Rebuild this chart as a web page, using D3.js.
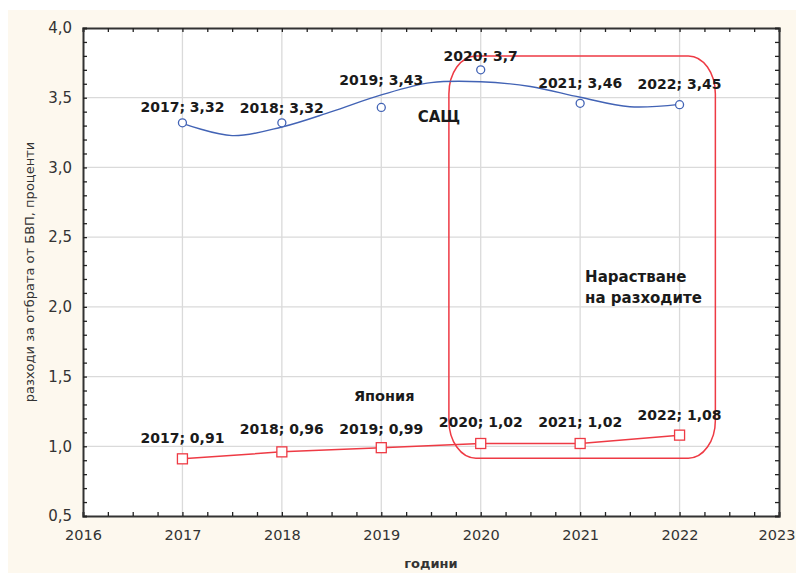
<!DOCTYPE html>
<html>
<head>
<meta charset="utf-8">
<script src="https://cdn.jsdelivr.net/npm/d3@7"></script>
<style>
	html, body { margin: 0; padding: 0; background: #ffffff; }
	svg { display: block; }
	text { font-family: 'DejaVu Sans', sans-serif; }
</style>
</head>
<body>
<svg id="chart"></svg>
<script>
// Data
const years = [2017, 2018, 2019, 2020, 2021, 2022];
const usaValues = [3.32, 3.32, 3.43, 3.7, 3.46, 3.45];
const japanValues = [0.91, 0.96, 0.99, 1.02, 1.02, 1.08];

// Smoothed USA trend line as drawn in the reference (read at half-year steps)
const usaTrendYears = [2017, 2017.5, 2018, 2018.5, 2019, 2019.5, 2020, 2020.5, 2021, 2021.5, 2022];
const usaTrendValues = [3.316, 3.228, 3.29, 3.4, 3.52, 3.608, 3.615, 3.58, 3.503, 3.435, 3.452];

const xTickYears = [2016, 2017, 2018, 2019, 2020, 2021, 2022, 2023];
const yTickValues = [0.5, 1.0, 1.5, 2.0, 2.5, 3.0, 3.5, 4.0];

const seriesNames = ['САЩ', 'Япония'];
const highlightLines = ['Нарастване', 'на разходите'];

class LineChart {
	constructor(_config) {
		this.config = {
			parentElement: _config.parentElement,
			containerWidth: 796,
			containerHeight: 574,
			margin: { top: 28, right: 17, bottom: 58, left: 83 },
		};
		this.initVis();
	}

	initVis() {
		let vis = this;

		vis.width = vis.config.containerWidth - vis.config.margin.left - vis.config.margin.right;
		vis.height = vis.config.containerHeight - vis.config.margin.top - vis.config.margin.bottom;

		vis.svg = d3
			.select(vis.config.parentElement)
			.attr('width', vis.config.containerWidth)
			.attr('height', vis.config.containerHeight);

		// cream panel behind the chart
		vis.svg
			.append('rect')
			.attr('x', 8)
			.attr('y', 10)
			.attr('width', vis.config.containerWidth - 8)
			.attr('height', vis.config.containerHeight - 11)
			.attr('fill', '#fdf8ee');

		vis.chart = vis.svg
			.append('g')
			.attr('transform', `translate(${vis.config.margin.left},${vis.config.margin.top})`);

		vis.chart
			.append('rect')
			.attr('width', vis.width)
			.attr('height', vis.height)
			.attr('fill', '#ffffff');

		vis.xScale = d3.scaleLinear().domain([2016, 2023]).range([0, vis.width]);
		vis.yScale = d3.scaleLinear().domain([0.5, 4.0]).range([vis.height, 0]);

		vis.locale = d3.formatLocale({ decimal: ',', thousands: ' ', grouping: [3], currency: ['', ''] });
		vis.numFmt = (v) => String(v).replace('.', ',');
	}

	renderVis() {
		let vis = this;
		const x = vis.xScale;
		const y = vis.yScale;

		// grid
		vis.chart
			.append('g')
			.selectAll('line')
			.data(xTickYears.slice(1, -1))
			.join('line')
			.attr('x1', (d) => x(d))
			.attr('x2', (d) => x(d))
			.attr('y1', 0)
			.attr('y2', vis.height)
			.attr('stroke', '#dadada')
			.attr('stroke-width', 1.3);

		vis.chart
			.append('g')
			.selectAll('line')
			.data(yTickValues.slice(1, -1))
			.join('line')
			.attr('x1', 0)
			.attr('x2', vis.width)
			.attr('y1', (d) => y(d))
			.attr('y2', (d) => y(d))
			.attr('stroke', '#dadada')
			.attr('stroke-width', 1.3);

		// minor ticks (inside the frame) on all four sides
		const xMinor = d3.range(2016 * 4, 2023 * 4 + 1).map((d) => d / 4);
		const yMinor = d3.range(5, 41).map((d) => d / 10);

		vis.chart
			.append('g')
			.attr('class', 'axis')
			.attr('transform', `translate(0,${vis.height})`)
			.call(d3.axisBottom(x).tickValues(xMinor).tickSize(-4).tickFormat(''));
		vis.chart
			.append('g')
			.attr('class', 'axis')
			.call(d3.axisTop(x).tickValues(xMinor).tickSize(-4).tickFormat(''));
		vis.chart
			.append('g')
			.attr('class', 'axis')
			.call(d3.axisLeft(y).tickValues(yMinor).tickSize(-4).tickFormat(''));
		vis.chart
			.append('g')
			.attr('class', 'axis')
			.attr('transform', `translate(${vis.width},0)`)
			.call(d3.axisRight(y).tickValues(yMinor).tickSize(-4).tickFormat(''));

		vis.chart
			.selectAll('.axis path')
			.attr('stroke', '#333333')
			.attr('stroke-width', 2);
		vis.chart
			.selectAll('.axis line')
			.attr('stroke', '#222222')
			.attr('stroke-width', 1.3);

		// tick labels
		const xLabels = vis.chart
			.append('g')
			.attr('transform', `translate(0,${vis.height})`)
			.call(d3.axisBottom(x).tickValues(xTickYears).tickSize(0).tickPadding(14).tickFormat(d3.format('d')));
		xLabels.select('.domain').remove();
		xLabels
			.selectAll('text')
			.attr('fill', '#333333')
			.style('font-size', '14.5px')
			.style('font-family', "'DejaVu Sans', sans-serif");
		// last label sits against the right edge of the page
		xLabels
			.selectAll('.tick')
			.filter((d) => d === 2023)
			.select('text')
			.attr('text-anchor', 'end')
			.attr('x', 16);

		const yLabels = vis.chart
			.append('g')
			.call(d3.axisLeft(y).tickValues(yTickValues).tickSize(0).tickPadding(11).tickFormat(vis.locale.format('.1f')));
		yLabels.select('.domain').remove();
		yLabels
			.selectAll('text')
			.attr('fill', '#333333')
			.style('font-size', '15px')
			.style('font-family', "'DejaVu Sans', sans-serif");

		// axis titles
		vis.svg
			.append('text')
			.attr('transform', `translate(34,${vis.config.margin.top + vis.height / 2}) rotate(-90)`)
			.attr('text-anchor', 'middle')
			.attr('fill', '#333333')
			.style('font-size', '13px')
			.text('разходи за отбрата от БВП, проценти');

		vis.svg
			.append('text')
			.attr('x', vis.config.margin.left + vis.width / 2)
			.attr('y', 568)
			.attr('text-anchor', 'middle')
			.attr('fill', '#333333')
			.style('font-size', '13px')
			.style('font-weight', 'bold')
			.text('години');

		// highlight box around 2020-2022
		const box = { x0: 2019.68, x1: 2022.36, y0: 0.915, y1: 3.8 };
		vis.chart
			.append('rect')
			.attr('x', x(box.x0))
			.attr('y', y(box.y1))
			.attr('width', x(box.x1) - x(box.x0))
			.attr('height', y(box.y0) - y(box.y1))
			.attr('rx', 27)
			.attr('ry', 38)
			.attr('fill', 'none')
			.attr('stroke', '#ee3a44')
			.attr('stroke-width', 1.5);

		// USA trend and markers
		const usaColor = '#4263b5';
		vis.chart
			.append('path')
			.datum(usaTrendYears.map((d, i) => [d, usaTrendValues[i]]))
			.attr('fill', 'none')
			.attr('stroke', usaColor)
			.attr('stroke-width', 1.4)
			.attr('d', d3.line().x((d) => x(d[0])).y((d) => y(d[1])).curve(d3.curveCatmullRom.alpha(0.5)));

		vis.chart
			.append('g')
			.selectAll('circle')
			.data(years)
			.join('circle')
			.attr('cx', (d) => x(d))
			.attr('cy', (d, i) => y(usaValues[i]))
			.attr('r', 4)
			.attr('fill', '#ffffff')
			.attr('stroke', usaColor)
			.attr('stroke-width', 1.3);

		// Japan line and markers
		const japanColor = '#ee3a44';
		vis.chart
			.append('path')
			.datum(years.map((d, i) => [d, japanValues[i]]))
			.attr('fill', 'none')
			.attr('stroke', japanColor)
			.attr('stroke-width', 1.5)
			.attr('d', d3.line().x((d) => x(d[0])).y((d) => y(d[1])));

		vis.chart
			.append('g')
			.selectAll('rect')
			.data(years)
			.join('rect')
			.attr('x', (d) => x(d) - 5)
			.attr('y', (d, i) => y(japanValues[i]) - 5)
			.attr('width', 10)
			.attr('height', 10)
			.attr('fill', '#ffffff')
			.attr('stroke', japanColor)
			.attr('stroke-width', 1.3);

		// point labels (offsets in px above each marker, as placed in the reference)
		const usaLabelDy = [11, 10, 22, 9, 15, 16];
		const japanLabelDy = [16, 18, 14, 16, 16, 15];

		const addLabels = (values, dys) => {
			vis.chart
				.append('g')
				.selectAll('text')
				.data(years)
				.join('text')
				.attr('x', (d) => x(d))
				.attr('y', (d, i) => y(values[i]) - dys[i])
				.attr('text-anchor', 'middle')
				.attr('fill', '#1a1a1a')
				.style('font-size', '14px')
				.style('font-weight', 'bold')
				.text((d, i) => `${d}; ${vis.numFmt(values[i])}`);
		};
		addLabels(usaValues, usaLabelDy);
		addLabels(japanValues, japanLabelDy);

		// series names
		vis.chart
			.append('text')
			.attr('x', x(2019.58))
			.attr('y', y(3.328))
			.attr('text-anchor', 'middle')
			.attr('fill', '#1a1a1a')
			.style('font-size', '15px')
			.style('font-weight', 'bold')
			.text(seriesNames[0]);

		vis.chart
			.append('text')
			.attr('x', x(2019.03))
			.attr('y', y(1.326))
			.attr('text-anchor', 'middle')
			.attr('fill', '#1a1a1a')
			.style('font-size', '14.5px')
			.style('font-weight', 'bold')
			.text(seriesNames[1]);

		vis.chart
			.append('text')
			.attr('x', x(2021.05))
			.attr('y', y(2.18))
			.attr('fill', '#1a1a1a')
			.style('font-size', '15px')
			.style('font-weight', 'bold')
			.selectAll('tspan')
			.data(highlightLines)
			.join('tspan')
			.attr('x', x(2021.05))
			.attr('dy', (d, i) => (i === 0 ? 0 : 21.6))
			.text((d) => d);
	}
}

const chart = new LineChart({ parentElement: '#chart' });
chart.renderVis();
</script>
</body>
</html>
